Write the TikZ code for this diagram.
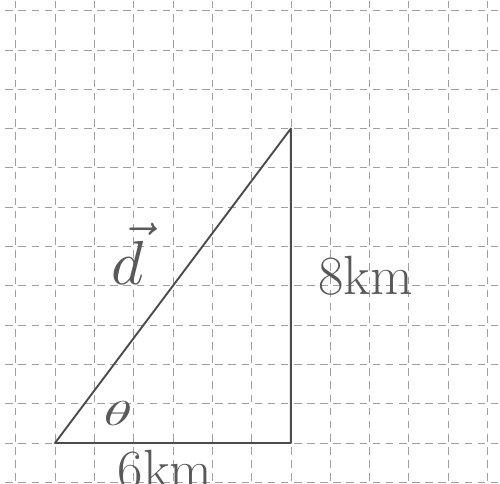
\documentclass[tikz,border=0pt]{standalone}
\usepackage{graphicx}
\usetikzlibrary{positioning}

\begin{document}
\begin{tikzpicture}[
  gridline/.style={gray!75, line width=0.5pt, dash pattern=on 5.5pt off 4pt},
  side/.style={black!70, line width=1.4pt, line join=round},
  hand/.style={black!65, inner sep=0pt}]

% Page, same proportions as the sheet
\clip (-1.40,-1.04) rectangle (11.32,11.27);
\fill[white] (-1.40,-1.04) rectangle (11.32,11.27);

% Squared paper
\foreach \x in {-1,...,11}
  \draw[gridline] (\x,-1.3) -- (\x,11.4);
\foreach \y in {-1,...,11}
  \draw[gridline] (-1.6,\y) -- (11.5,\y);

% Triangle corners
\coordinate (a) at (0,0);
\coordinate (b) at (6,0);
\coordinate (c) at (6,8);

\draw[side] (a) -- (b) -- (c) -- cycle;

% Labels
\node[hand] (dlab) at (1.86,4.81) {\scalebox{4.5}{$\vec{d}$}};
\node[hand, font=\fontsize{40}{40}\selectfont] (vert) at (7.9,4.25) {8km};
\node[hand, font=\fontsize{40}{40}\selectfont] (horz) at (2.8,-0.68) {6km};
\node[hand] (ang) at (1.6,0.76) {\scalebox{4.2}[2.5]{$\theta$}};

\end{tikzpicture}
\end{document}
